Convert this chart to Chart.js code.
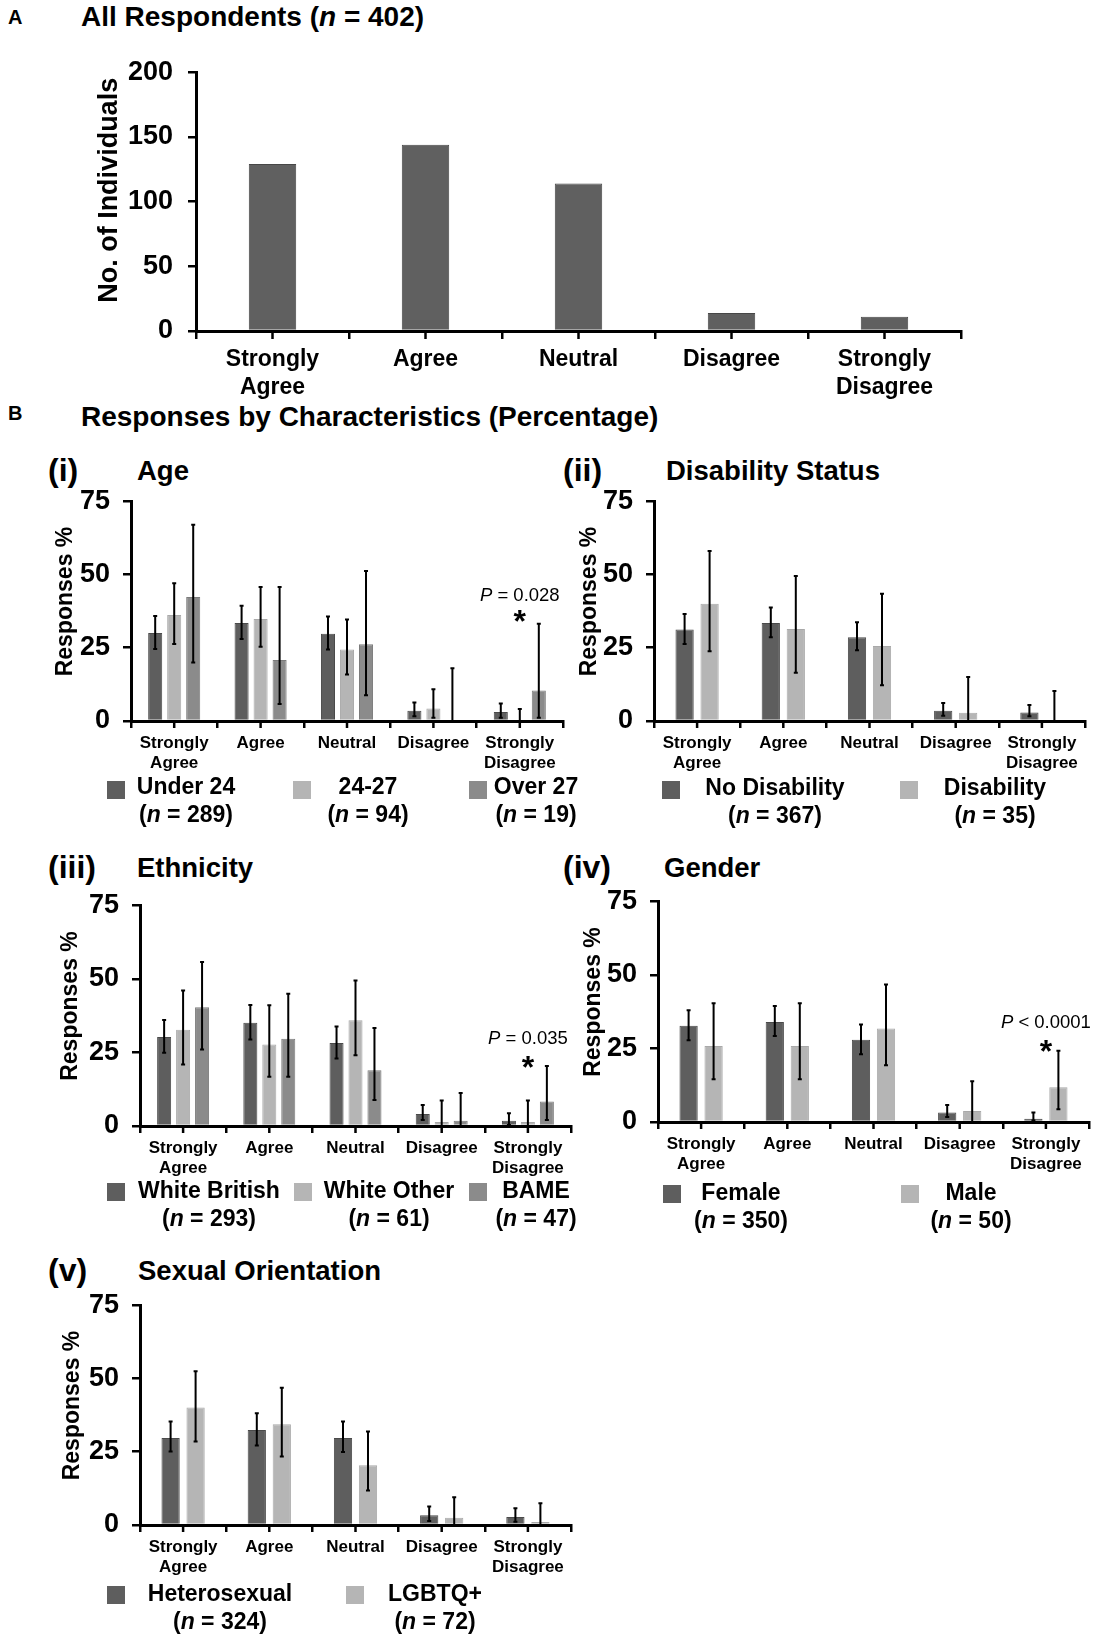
<!DOCTYPE html>
<html>
<head>
<meta charset="utf-8">
<script src="https://cdn.jsdelivr.net/npm/chart.js@4.4.1/dist/chart.umd.min.js"></script>
<style>
    body { margin: 0; background: #fff; }
    #page { position: relative; width: 1097px; height: 1637px; overflow: hidden;
            font-family: 'Liberation Sans', Arial, sans-serif; color: #000; }
    #page canvas { position: absolute; }
    .t { position: absolute; font-weight: bold; line-height: 1; white-space: nowrap; }
    .sw { position: absolute; width: 18px; height: 18px; }
    .lg { position: absolute; font-weight: bold; font-size: 23px; line-height: 28px;
          text-align: center; white-space: nowrap; transform: translateX(-50%); }
</style>
</head>
<body>
<div id="page">
    <div class="t" style="left:8px;top:7px;font-size:20px">A</div>
    <div class="t" style="left:81px;top:3px;font-size:28px">All Respondents (<i>n</i> = 402)</div>
    <div class="t" style="left:8px;top:403px;font-size:20px">B</div>
    <div class="t" style="left:81px;top:403px;font-size:28px">Responses by Characteristics (Percentage)</div>

    <div class="t" style="left:48px;top:454px;font-size:32px">(i)</div>
    <div class="t" style="left:137px;top:457px;font-size:27.5px">Age</div>
    <div class="t" style="left:563px;top:454px;font-size:32px">(ii)</div>
    <div class="t" style="left:666px;top:457px;font-size:27.5px">Disability Status</div>
    <div class="t" style="left:48px;top:851px;font-size:32px">(iii)</div>
    <div class="t" style="left:137px;top:854px;font-size:27.5px">Ethnicity</div>
    <div class="t" style="left:563px;top:851px;font-size:32px">(iv)</div>
    <div class="t" style="left:664px;top:854px;font-size:27.5px">Gender</div>
    <div class="t" style="left:48px;top:1254px;font-size:32px">(v)</div>
    <div class="t" style="left:138px;top:1257px;font-size:27.5px">Sexual Orientation</div>

    <canvas id="chart-all"></canvas>
    <canvas id="chart-age"></canvas>
    <canvas id="chart-disability"></canvas>
    <canvas id="chart-ethnicity"></canvas>
    <canvas id="chart-gender"></canvas>
    <canvas id="chart-sexual"></canvas>
</div>

<script>
// Categorías de respuesta (eje x)
const answerLabels = [['Strongly', 'Agree'], 'Agree', 'Neutral', 'Disagree', ['Strongly', 'Disagree']];

// A: número de individuos
const allCounts = [129, 144, 114, 14, 11];

// (i) Edad
const ageNames = ['Under 24', '24-27', 'Over 27'];
const ageN = [289, 94, 19];
const ageUnder24 = [30.0, 33.4, 29.8, 3.5, 3.1];
const ageUnder24Low = [24.6, 28.0, 24.4, 1.6, 1.1];
const ageUnder24High = [35.8, 39.3, 35.7, 6.3, 6.0];
const age2427 = [36.2, 34.8, 24.4, 4.3, 0];
const age2427Low = [26.3, 25.3, 15.9, 1.1, 0];
const age2427High = [47.0, 45.7, 34.6, 10.8, 4.1];
const ageOver27 = [42.3, 20.8, 26.2, 0, 10.4];
const ageOver27Low = [20.0, 5.8, 8.8, 0, 1.1];
const ageOver27High = [67.0, 45.7, 51.2, 18.0, 33.2];

// (ii) Discapacidad
const disNames = ['No Disability', 'Disability'];
const disN = [367, 35];
const noDisability = [31.2, 33.4, 28.6, 3.5, 2.9];
const noDisabilityLow = [26.3, 28.6, 24.1, 1.8, 1.6];
const noDisabilityHigh = [36.5, 38.7, 33.7, 6.1, 5.5];
const disability = [40.0, 31.4, 25.6, 2.8, 0];
const disabilityLow = [23.8, 16.5, 12.2, 0, 0];
const disabilityHigh = [58.0, 49.5, 43.4, 15.0, 10.2];

// (iii) Etnia
const ethNames = ['White British', 'White Other', 'BAME'];
const ethN = [293, 61, 47];
const whiteBritish = [30.2, 35.1, 28.2, 4.1, 1.8];
const whiteBritishLow = [24.9, 29.4, 22.9, 2.0, 0.3];
const whiteBritishHigh = [36.0, 41.1, 33.8, 7.1, 4.3];
const whiteOther = [32.7, 27.7, 35.9, 1.4, 1.4];
const whiteOtherLow = [20.9, 16.7, 24.0, 0, 0];
const whiteOtherHigh = [46.0, 41.0, 49.4, 8.7, 8.7];
const bame = [40.3, 29.6, 18.9, 1.8, 8.3];
const bameLow = [26.0, 16.7, 8.8, 0, 2.0];
const bameHigh = [55.7, 44.9, 33.3, 11.2, 20.4];

// (iv) Género
const genderNames = ['Female', 'Male'];
const genderN = [350, 50];
const female = [32.7, 34.0, 27.9, 3.2, 1.1];
const femaleLow = [27.8, 29.2, 23.0, 1.7, 0.5];
const femaleHigh = [38.0, 39.4, 33.1, 5.8, 3.2];
const male = [25.8, 25.8, 31.8, 3.7, 11.8];
const maleLow = [14.5, 14.5, 19.3, 0, 4.3];
const maleHigh = [40.3, 40.3, 46.7, 13.8, 24.2];

// (v) Orientación sexual
const sexNames = ['Heterosexual', 'LGBTQ+'];
const sexN = [324, 72];
const hetero = [29.7, 32.4, 29.7, 3.3, 2.7];
const heteroLow = [25.1, 27.1, 24.9, 1.4, 1.1];
const heteroHigh = [35.3, 38.1, 35.3, 6.3, 5.7];
const lgbtq = [40.1, 34.4, 20.4, 2.5, 1.0];
const lgbtqLow = [28.5, 23.4, 11.8, 0, 0];
const lgbtqHigh = [52.5, 46.8, 31.9, 9.5, 7.4];

// Significancia (categoría, texto)
const ageSig = { index: 4, op: '=', p: '0.028' };
const ethSig = { index: 4, op: '=', p: '0.035' };
const genderSig = { index: 4, op: '<', p: '0.0001' };

// Colores
const DARK = '#5e5e5e', LIGHT = '#b5b5b5', MID = '#8b8b8b';
const FONT = "'Liberation Sans', Arial, sans-serif";

/**
 * Dibuja las barras de error (IC) de cada dataset
 */
const errorBarsPlugin = {
    id: 'errorBars',
    afterDatasetsDraw(chart) {
        const ctx = chart.ctx;
        const yScale = chart.scales.y;
        chart.data.datasets.forEach((ds, i) => {
            if (!ds.ciLow) return;
            chart.getDatasetMeta(i).data.forEach((bar, j) => {
                const yTop = yScale.getPixelForValue(ds.ciHigh[j]);
                const yBot = yScale.getPixelForValue(ds.ciLow[j]);
                ctx.save();
                ctx.strokeStyle = '#000';
                ctx.lineWidth = 2;
                ctx.beginPath();
                ctx.moveTo(bar.x, yTop);
                ctx.lineTo(bar.x, yBot);
                ctx.moveTo(bar.x - 2, yTop);
                ctx.lineTo(bar.x + 2, yTop);
                ctx.moveTo(bar.x - 2, yBot);
                ctx.lineTo(bar.x + 2, yBot);
                ctx.stroke();
                ctx.restore();
            });
        });
    }
};

/**
 * Marcas del eje x en el centro de cada categoría
 */
const centerTicksPlugin = {
    id: 'centerTicks',
    afterDraw(chart, args, opts) {
        const ctx = chart.ctx;
        const xScale = chart.scales.x;
        const base = chart.chartArea.bottom;
        ctx.save();
        ctx.strokeStyle = '#000';
        ctx.lineWidth = 2.5;
        chart.data.labels.forEach((l, i) => {
            const px = xScale.getPixelForValue(i);
            ctx.beginPath();
            ctx.moveTo(px, base);
            ctx.lineTo(px, base + opts.length);
            ctx.stroke();
        });
        ctx.restore();
    }
};

/**
 * Texto "P = ..." y asterisco sobre la categoría significativa
 */
const sigPlugin = {
    id: 'sig',
    afterDraw(chart, args, opts) {
        if (!opts || opts.index === undefined) return;
        const ctx = chart.ctx;
        const x = chart.scales.x.getPixelForValue(opts.index);
        const yText = chart.scales.y.getPixelForValue(opts.textAt);
        const yStar = chart.scales.y.getPixelForValue(opts.starAt);
        const rest = ' ' + opts.op + ' ' + opts.p;
        ctx.save();
        ctx.fillStyle = '#000';
        ctx.textBaseline = 'middle';
        ctx.font = 'italic 18.5px ' + FONT;
        const wP = ctx.measureText('P').width;
        ctx.font = '18.5px ' + FONT;
        const wR = ctx.measureText(rest).width;
        const x0 = x - (wP + wR) / 2;
        ctx.textAlign = 'left';
        ctx.font = 'italic 18.5px ' + FONT;
        ctx.fillText('P', x0, yText);
        ctx.font = '18.5px ' + FONT;
        ctx.fillText(rest, x0 + wP, yText);
        ctx.font = 'bold 32px ' + FONT;
        ctx.textAlign = 'center';
        ctx.textBaseline = 'alphabetic';
        ctx.fillText('*', x, yStar + 0.575 * 32);
        ctx.restore();
    }
};

/**
 * Crea un gráfico de barras con la caja y ejes indicados
 */
function buildChart(id, box, datasets, o) {
    const canvas = document.getElementById(id);
    canvas.style.left = box.left + 'px';
    canvas.style.top = box.top + 'px';
    canvas.style.width = box.width + 'px';
    canvas.style.height = box.height + 'px';
    canvas.width = box.width;
    canvas.height = box.height;

    return new Chart(canvas, {
        type: 'bar',
        data: { labels: answerLabels, datasets: datasets },
        options: {
            responsive: false,
            animation: false,
            devicePixelRatio: 1,
            layout: { padding: { top: 0, right: 6, left: 0, bottom: 0 } },
            plugins: {
                legend: { display: false },
                tooltip: { enabled: false },
                centerTicks: { length: o.xTick },
                sig: o.sig || {}
            },
            scales: {
                x: {
                    grid: { offset: true, drawOnChartArea: false, color: '#000', lineWidth: 2.5, tickLength: o.xTick },
                    border: { display: true, color: '#000', width: 3, z: 1 },
                    ticks: {
                        color: '#000', padding: o.xPad, maxRotation: 0, autoSkip: false,
                        font: { family: FONT, size: o.xFont, weight: 'bold', lineHeight: o.xLine }
                    },
                    afterFit: s => { s.height = o.xHeight; }
                },
                y: {
                    min: 0, max: o.yMax,
                    ticks: {
                        stepSize: o.yStep, color: '#000', padding: o.yPad,
                        font: { family: FONT, size: o.yFont, weight: 'bold' }
                    },
                    grid: { drawOnChartArea: false, color: '#000', lineWidth: 2.5, tickLength: 8 },
                    border: { display: true, color: '#000', width: 3, z: 1 },
                    title: {
                        // los espacios iniciales suben un poco el título
                        display: true, text: '   ' + o.yTitle, color: '#000', padding: { top: 4, bottom: 0 },
                        font: { family: FONT, size: o.titleFont, weight: 'bold' }
                    },
                    afterFit: s => { s.width = o.yWidth; }
                }
            }
        },
        plugins: [errorBarsPlugin, centerTicksPlugin, sigPlugin]
    });
}

// Serie con barras de error
function series(data, low, high, color, border, cat, bar) {
    return {
        data: data, ciLow: low, ciHigh: high,
        backgroundColor: color, borderColor: border, borderWidth: 1,
        categoryPercentage: cat, barPercentage: bar
    };
}

// Opciones comunes de los paneles de porcentaje
function pctOptions(extra) {
    return Object.assign({
        xTick: 7, xPad: 5, xFont: 17, xLine: 1.18, xHeight: 62,
        yMax: 75, yStep: 25, yPad: 13, yFont: 27, titleFont: 23, yTitle: 'Responses %'
    }, extra);
}

// Leyenda HTML construida a partir de nombres y tamaños de muestra
function buildLegend(names, ns, colors, pos) {
    const page = document.getElementById('page');
    names.forEach((name, i) => {
        const sw = document.createElement('div');
        sw.className = 'sw';
        sw.style.left = pos.sq[i] + 'px';
        sw.style.top = pos.sqTop + 'px';
        sw.style.background = colors[i];
        page.appendChild(sw);
        const lg = document.createElement('div');
        lg.className = 'lg';
        lg.style.left = pos.cx[i] + 'px';
        lg.style.top = pos.top + 'px';
        lg.innerHTML = name + '<br>(<i>n</i> = ' + ns[i] + ')';
        page.appendChild(lg);
    });
}

// A
buildChart('chart-all', { left: 89, top: 41, width: 878, height: 362 },
    [{ data: allCounts, backgroundColor: '#606060', borderColor: '#474747', borderWidth: 1,
       categoryPercentage: 1, barPercentage: 0.31 }],
    { xTick: 8, xPad: 7, xFont: 23, xLine: 1.2, xHeight: 72,
      yMax: 200, yStep: 50, yPad: 15, yFont: 27, titleFont: 27, yTitle: 'No. of Individuals', yWidth: 107 });

// (i) Edad
buildChart('chart-age', { left: 48, top: 472, width: 521, height: 311 }, [
    series(ageUnder24, ageUnder24Low, ageUnder24High, DARK, '#4a4a4a', 0.66, 0.74),
    series(age2427, age2427Low, age2427High, LIGHT, '#a9a9a9', 0.66, 0.74),
    series(ageOver27, ageOver27Low, ageOver27High, MID, '#7b7b7b', 0.66, 0.74)
], pctOptions({ yWidth: 83, sig: Object.assign({ textAt: 42.6, starAt: 36.5 }, ageSig) }));

// (ii) Discapacidad
buildChart('chart-disability', { left: 572, top: 472, width: 519, height: 311 }, [
    series(noDisability, noDisabilityLow, noDisabilityHigh, DARK, '#4a4a4a', 0.58, 0.73),
    series(disability, disabilityLow, disabilityHigh, LIGHT, '#a9a9a9', 0.58, 0.73)
], pctOptions({ yWidth: 82 }));

// (iii) Etnia
buildChart('chart-ethnicity', { left: 53, top: 876, width: 524, height: 312 }, [
    series(whiteBritish, whiteBritishLow, whiteBritishHigh, DARK, '#4a4a4a', 0.66, 0.74),
    series(whiteOther, whiteOtherLow, whiteOtherHigh, LIGHT, '#a9a9a9', 0.66, 0.74),
    series(bame, bameLow, bameHigh, MID, '#7b7b7b', 0.66, 0.74)
], pctOptions({ yWidth: 87, sig: Object.assign({ textAt: 29.5, starAt: 22.4 }, ethSig) }));

// (iv) Género
buildChart('chart-gender', { left: 576, top: 872, width: 519, height: 312 }, [
    series(female, femaleLow, femaleHigh, DARK, '#4a4a4a', 0.58, 0.73),
    series(male, maleLow, maleHigh, LIGHT, '#a9a9a9', 0.58, 0.73)
], pctOptions({ yWidth: 82, sig: Object.assign({ textAt: 33.6, starAt: 26.8 }, genderSig) }));

// (v) Orientación sexual
buildChart('chart-sexual', { left: 55, top: 1276, width: 522, height: 311 }, [
    series(hetero, heteroLow, heteroHigh, DARK, '#4a4a4a', 0.58, 0.73),
    series(lgbtq, lgbtqLow, lgbtqHigh, LIGHT, '#a9a9a9', 0.58, 0.73)
], pctOptions({ yWidth: 85 }));

// Leyendas
buildLegend(ageNames, ageN, [DARK, LIGHT, MID], { sq: [107, 293, 469], cx: [186, 368, 536], sqTop: 781, top: 772 });
buildLegend(disNames, disN, [DARK, LIGHT], { sq: [662, 900], cx: [775, 995], sqTop: 781, top: 773 });
buildLegend(ethNames, ethN, [DARK, LIGHT, MID], { sq: [107, 294, 469], cx: [209, 389, 536], sqTop: 1183, top: 1176 });
buildLegend(genderNames, genderN, [DARK, LIGHT], { sq: [663, 901], cx: [741, 971], sqTop: 1185, top: 1178 });
buildLegend(sexNames, sexN, [DARK, LIGHT], { sq: [107, 346], cx: [220, 435], sqTop: 1586, top: 1579 });
</script>
</body>
</html>
